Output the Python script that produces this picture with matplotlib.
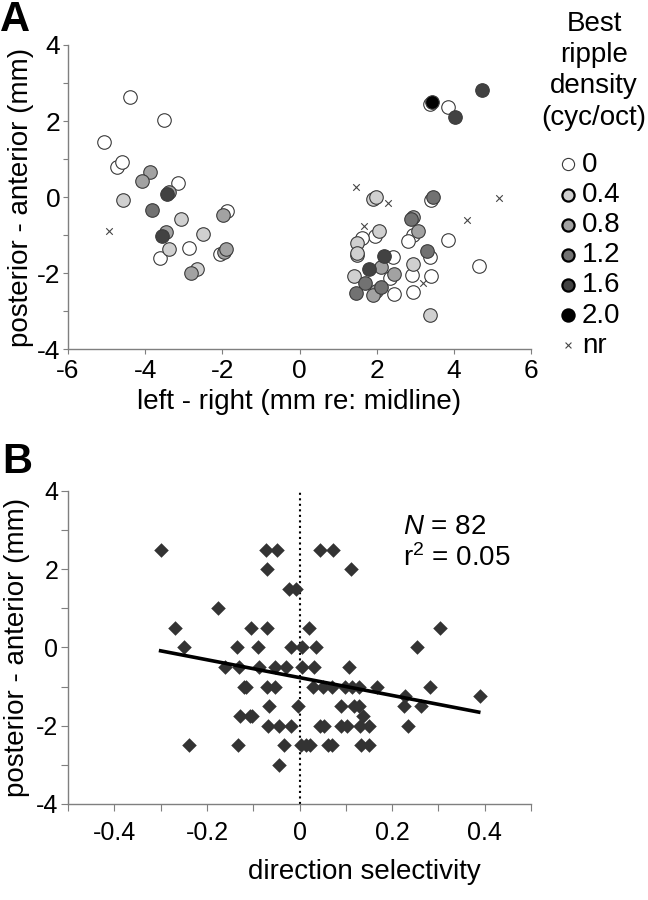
import matplotlib
matplotlib.use("Agg")
import matplotlib.pyplot as plt
import numpy as np

plt.rcParams['font.family'] = ['Liberation Sans', 'DejaVu Sans']
plt.rcParams['mathtext.fontset'] = 'custom'
plt.rcParams['mathtext.rm'] = 'Liberation Sans'
plt.rcParams['mathtext.it'] = 'Liberation Sans:italic'
plt.rcParams['axes.unicode_minus'] = False

# ---- panel A: recording sites, coloured by best ripple density ----
a_x = [-4.39, -3.50, -5.06, -4.74, -4.59, -3.87, -4.09, -3.15, -3.44, -3.39,
       -4.58, -3.83, -3.07, -1.88, -1.98, -3.56, -3.46, -2.50, -3.38, -2.86,
       -3.62, -2.05, -1.95, -1.91, -2.81, -2.66,
       3.39, 3.43, 3.84, 4.02, 4.74, 1.90, 1.99, 3.40, 3.47, 2.89,
       2.95, 2.07, 1.96, 1.62, 1.50, 1.48, 1.49, 3.08, 2.95, 2.80,
       3.86, 2.19, 2.42, 3.37, 3.30, 4.66, 2.95, 1.81, 2.11, 2.45,
       2.35, 1.40, 2.91, 3.40, 1.70, 2.11, 1.99, 1.90, 2.44, 2.95,
       1.47, 3.39]
a_y = [2.63, 2.02, 1.44, 0.79, 0.91, 0.66, 0.43, 0.38, 0.08, 0.12,
       -0.09, -0.34, -0.59, -0.37, -0.47, -1.03, -0.91, -0.98, -1.38, -1.33,
       -1.61, -1.50, -1.44, -1.37, -2.01, -1.90,
       2.44, 2.49, 2.38, 2.10, 2.82, -0.05, 0.01, -0.08, 0.01, -0.59,
       -0.52, -0.89, -1.03, -1.09, -1.22, -1.52, -1.47, -0.89, -1.00, -1.15,
       -1.13, -1.55, -1.59, -1.59, -1.42, -1.81, -1.75, -1.89, -1.85, -2.03,
       -2.14, -2.08, -2.05, -2.08, -2.27, -2.36, -2.47, -2.58, -2.56, -2.51,
       -2.53, -3.10]
a_density = [0, 0, 0, 0, 0, 0.8, 0.8, 0, 1.6, 0.8,
             0.4, 1.2, 0.4, 0, 0.8, 1.6, 0.8, 0.4, 0.4, 0,
             0, 0, 0.8, 0.8, 0.8, 0.4,
             0, 2.0, 0, 1.6, 1.6, 0.4, 0.4, 0, 1.2, 1.2,
             0.8, 0.4, 0, 0, 0.4, 0.4, 0.4, 0.8, 0, 0,
             0, 1.6, 0, 0, 1.2, 0, 0.4, 1.6, 0.8, 0.8,
             0, 0.4, 0, 0, 1.2, 1.2, 0.8, 0.8, 0, 0,
             1.2, 0.4]

# sites with no response
nr_x = [-4.94, 1.47, 2.29, 5.16, 4.35, 1.68, 3.19]
nr_y = [-0.90, 0.26, -0.15, -0.03, -0.61, -0.76, -2.27]

density_levels = [0, 0.4, 0.8, 1.2, 1.6, 2.0]
density_labels = ['0', '0.4', '0.8', '1.2', '1.6', '2.0']
density_colors = ['#ffffff', '#d0d0d0', '#a2a2a2', '#727272', '#424242', '#000000']

# ---- panel B: position vs direction selectivity ----
b_x = [-0.300, -0.073, -0.049, 0.044, 0.073,
       -0.071, 0.111,
       -0.023, -0.008,
       -0.177,
       -0.269, -0.105, -0.071, 0.021, 0.304,
       -0.249, -0.136, -0.090, -0.018, 0.006, 0.035, 0.253,
       -0.160, -0.131, -0.088, -0.054, -0.029, 0.006, 0.031, 0.106,
       -0.121, -0.116, -0.071, -0.052, 0.028, 0.050, 0.070, 0.098, 0.113, 0.129, 0.167, 0.282,
       0.228, 0.389,
       -0.066, -0.003, 0.090, 0.118, 0.129, 0.225, 0.263,
       -0.129, -0.107, -0.102, 0.137,
       -0.069, -0.044, -0.018, 0.044, 0.052, 0.090, 0.102, 0.131, 0.150, 0.234,
       -0.238, -0.132, -0.033, 0.003, 0.013, 0.023, 0.062, 0.071, 0.133, 0.149,
       -0.044]
b_y = [2.5] * 5 + [2.0] * 2 + [1.5] * 2 + [1.0] + [0.5] * 5 + [0.0] * 7 + [-0.5] * 8 \
    + [-1.0] * 12 + [-1.25] * 2 + [-1.5] * 7 + [-1.75] * 4 + [-2.0] * 10 + [-2.5] * 10 + [-3.0]

# regression line as drawn in the figure
fit_x = [-0.30, 0.387]
fit_slope = -2.28
fit_intercept = -0.77

axis_gray = '#7f7f7f'

fig = plt.figure(figsize=(6.48, 9), dpi=100)
axA = fig.add_axes([0.105, 0.6122, 0.7145, 0.3378])
axB = fig.add_axes([0.105, 0.1067, 0.7145, 0.3478])

for ax in (axA, axB):
    for side in ('top', 'right'):
        ax.spines[side].set_visible(False)
    for side in ('left', 'bottom'):
        ax.spines[side].set_color(axis_gray)
        ax.spines[side].set_linewidth(1.0)

# panel A
a_x = np.array(a_x)
a_y = np.array(a_y)
a_density = np.array(a_density)
handles = []
for lev, col in zip(density_levels, density_colors):
    m = np.isclose(a_density, lev)
    h = axA.scatter(a_x[m], a_y[m], s=95, c=col, edgecolors='#3a3a3a',
                    linewidths=0.8, zorder=3)
    handles.append(h)
h_nr = axA.scatter(nr_x, nr_y, s=22, marker='x', c='#444444', linewidths=0.8, zorder=3)
handles.append(h_nr)

axA.set_xlim(-6, 6)
axA.set_ylim(-4, 4)
axA.set_xticks(np.arange(-6, 7, 2))
axA.set_yticks(np.arange(-4, 5, 2))
axA.set_yticks(np.arange(-3, 4, 2), minor=True)
axA.tick_params(which='both', labelsize=19, length=3.5, width=0.8, color=axis_gray)
axA.tick_params(axis='x', pad=4)
axA.tick_params(axis='y', pad=2)
axA.set_xlabel('left - right (mm re: midline)', fontsize=20, labelpad=4)
axA.set_ylabel('posterior - anterior (mm)', fontsize=20, labelpad=2)

# legend: title as its own text block, entries below
fig.text(594 / 648, 1 - 11 / 900, 'Best\nripple\ndensity\n(cyc/oct)', fontsize=20,
         ha='center', va='top', ma='center', linespacing=1.26,
         transform=fig.transFigure)
leg = fig.legend(handles, density_labels + ['nr'],
                 loc='upper left', bbox_to_anchor=(557 / 648, 1 - 149 / 900),
                 frameon=False, fontsize=20,
                 handlelength=0.6, handletextpad=0.2, labelspacing=0.15,
                 borderpad=0.1, borderaxespad=0, markerscale=0.9)
for h in leg.legend_handles[1:6]:
    h.set_edgecolor('black')
    h.set_linewidth(1.6)

# panel B
axB.scatter(b_x, b_y, s=55, marker='D', c='#333333', linewidths=0, zorder=3)
fx = np.array(fit_x)
axB.plot(fx, fit_intercept + fit_slope * fx, color='black', lw=2.6, zorder=4)
axB.axvline(0, color='black', ls=':', lw=1.5, zorder=2)

axB.set_xlim(-0.5, 0.5)
axB.set_ylim(-4, 4)
axB.set_xticks([-0.4, -0.2, 0, 0.2, 0.4])
axB.set_xticklabels(['-0.4', '-0.2', '0', '0.2', '0.4'])
axB.set_xticks(np.arange(-0.5, 0.51, 0.1), minor=True)
axB.set_yticks(np.arange(-4, 5, 2))
axB.set_yticklabels(['-4', '-2', '0', '2', '4'])
axB.set_yticks(np.arange(-3, 4, 2), minor=True)
axB.tick_params(which='both', labelsize=18, length=5, width=0.8, color=axis_gray)
axB.tick_params(axis='x', pad=7)
axB.tick_params(axis='y', pad=2)
axB.set_xlabel('direction selectivity', fontsize=20)
axB.xaxis.set_label_coords(0.64, -0.175)
axB.set_ylabel('posterior - anterior (mm)', fontsize=20, labelpad=4)

axB.text(0.224, 3.08, '$N$ = 82', fontsize=20, ha='left', va='center')
axB.text(0.224, 2.29, 'r$^2$ = 0.05', fontsize=20, ha='left', va='center')

fig.text(0.0, 1.0, 'A', fontsize=30, fontweight='bold', ha='left', va='top')
fig.text(0.003, 1 - 442 / 900, 'B', fontsize=30, fontweight='bold', ha='left', va='top')

fig.savefig('out.png', dpi=100)
